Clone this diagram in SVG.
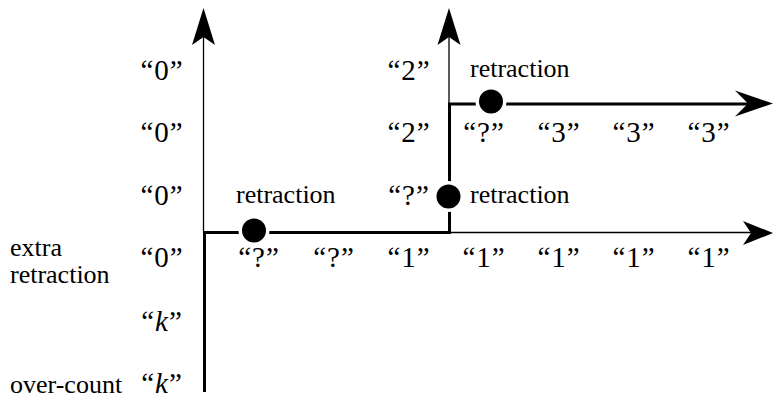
<svg xmlns="http://www.w3.org/2000/svg" width="773" height="398" viewBox="0 0 773 398">
<style>
text{font-family:"Liberation Serif","Times New Roman",serif;fill:#000}
.q{font-size:29px;text-anchor:middle;letter-spacing:1px}
.l{font-size:26px}
.thin{fill:none;stroke:#000;stroke-width:1.3}
.thick{fill:none;stroke:#000;stroke-width:3}
.ah{fill:#000;stroke:none}
.dot{fill:#000;stroke:#fff;stroke-width:7;paint-order:stroke}
</style>
<g id="connectors">
<path class="thin" d="M203.5,233 V36"/>
<path class="ah" d="M203.5,8 L215,45 L203.5,37 L192,45 Z"/>
<path class="thin" d="M449,104 V36"/>
<path class="ah" d="M449,8 L460.5,45 L449,37 L437.5,45 Z"/>
<path class="thin" d="M449,232.5 H752"/>
<path class="ah" d="M773,233 L743,221 L751,233 L743,245 Z"/>
<path class="thick" d="M204.5,392 V232.5 H449.5 V104 H750"/>
<path class="ah" d="M773,103.5 L735,90.5 L748,103.5 L735,116.5 Z"/>
</g>
<g id="dot1"><circle class="dot" cx="254" cy="230.5" r="12"/></g>
<g id="dot2"><circle class="dot" cx="448.5" cy="196.5" r="12"/></g>
<g id="dot3"><circle class="dot" cx="491" cy="101.5" r="12"/></g>
<g id="labels">
<text class="q" x="162" y="80">“0”</text>
<text class="q" x="162" y="142">“0”</text>
<text class="q" x="162" y="205">“0”</text>
<text class="q" x="162" y="267">“0”</text>
<text class="q" x="162" y="331">“<tspan font-style="italic">k</tspan>”</text>
<text class="q" x="162" y="393">“<tspan font-style="italic">k</tspan>”</text>
<text class="l" x="10" y="256">extra</text>
<text class="l" x="10" y="283">retraction</text>
<text class="l" x="10" y="393">over-count</text>
<text class="q" x="409" y="80">“2”</text>
<text class="l" x="470" y="77">retraction</text>
<text class="q" x="409" y="142">“2”</text>
<text class="q" x="484" y="142">“?”</text>
<text class="q" x="559" y="142">“3”</text>
<text class="q" x="634" y="142">“3”</text>
<text class="q" x="709" y="142">“3”</text>
<text class="l" x="236" y="203">retraction</text>
<text class="q" x="409" y="205">“?”</text>
<text class="l" x="470" y="203">retraction</text>
<text class="q" x="259" y="267">“?”</text>
<text class="q" x="334" y="267">“?”</text>
<text class="q" x="409" y="267">“1”</text>
<text class="q" x="484" y="267">“1”</text>
<text class="q" x="559" y="267">“1”</text>
<text class="q" x="634" y="267">“1”</text>
<text class="q" x="709" y="267">“1”</text>
</g>
</svg>
